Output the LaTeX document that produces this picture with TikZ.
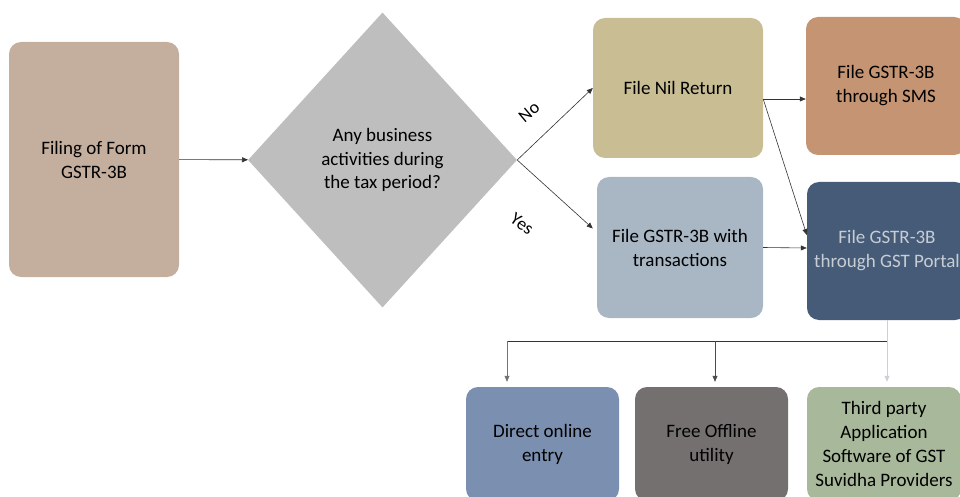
\documentclass[tikz,border=0pt]{standalone}
\usepackage{fontspec}
\setmainfont{Carlito}
\definecolor{formtan}{RGB}{196, 174, 158}
\definecolor{askgray}{RGB}{190, 190, 190}
\definecolor{nilkhaki}{RGB}{201, 189, 148}
\definecolor{txnblue}{RGB}{169, 183, 196}
\definecolor{smsbrown}{RGB}{196, 148, 115}
\definecolor{portalnavy}{RGB}{69, 91, 120}
\definecolor{portaltext}{RGB}{200, 205, 212}
\definecolor{onlineblue}{RGB}{123, 143, 176}
\definecolor{offlinegray}{RGB}{117, 112, 112}
\definecolor{thirdgreen}{RGB}{168, 184, 154}
\definecolor{wiregray}{RGB}{205, 208, 214}
\usepackage{tikz}
\usetikzlibrary{shapes.geometric, arrows.meta, positioning, calc}

\begin{document}
\begin{tikzpicture}[x=1pt, y=-1pt,
  stagebox/.style={rounded corners=12pt, align=center, inner sep=0pt, font=\fontsize{19}{24}\selectfont},
  flow/.style={-{Triangle[length=6pt, width=5pt]}, line width=0.6pt, draw=black!80}]
  \useasboundingbox (0, 0) rectangle (960, 497);
  \clip (0, 0) rectangle (960, 497);

  % Start and question
  \node[stagebox, fill=formtan, minimum width=170pt, minimum height=235pt] (form) at (94, 159.5) {Filing of Form\\GSTR-3B};
  \node[diamond, fill=askgray, minimum width=269pt, minimum height=295pt, inner sep=0pt, align=center, font=\fontsize{19}{23.5}\selectfont] (ask) at (382.5, 160) {Any business\\activities during\\the tax period?};
  \draw[flow] (form) -- (ask);

  % Answers
  \node[stagebox, fill=nilkhaki, minimum width=170pt, minimum height=140pt] (nil) at (678, 88) {File Nil Return};
  \node[stagebox, fill=txnblue, minimum width=166pt, minimum height=141pt] (txn) at (680, 247.5) {File GSTR-3B with\\transactions};
  \draw[flow] (ask.east) -- (nil.west);
  \draw[flow] (ask.east) -- ([xshift=-4pt, yshift=19pt]txn.west);
  \node[rotate=40, font=\fontsize{18}{20}\selectfont] (nolabel) at (529, 112) {No};
  \node[rotate=-35, font=\fontsize{18}{20}\selectfont] (yeslabel) at (522, 224) {Yes};

  % Ways to file
  \node[stagebox, fill=smsbrown, minimum width=160pt, minimum height=138pt] (sms) at (886, 86) {File GSTR-3B\\through SMS};
  \node[stagebox, fill=portalnavy, text=portaltext, minimum width=160pt, minimum height=138pt] (portal) at (887, 251) {File GSTR-3B\\through GST Portal};
  \coordinate (nilout) at ([yshift=-11pt]nil.east);
  \draw[flow] (nilout) -- (nilout -| sms.west);
  \draw[flow] (nilout) -- ([yshift=16pt]portal.west);
  \draw[flow] (txn.east) -- ([yshift=3pt]portal.west);

  % Portal modes
  \node[stagebox, fill=onlineblue, minimum width=153pt, minimum height=114pt] (online) at (542.5, 444) {Direct online\\entry};
  \node[stagebox, fill=offlinegray, minimum width=153pt, minimum height=114pt] (offline) at (711.5, 444) {Free Offline\\utility};
  \node[stagebox, fill=thirdgreen, minimum width=154pt, minimum height=114pt] (third) at (884, 444) {Third party\\Application\\Software of GST\\Suvidha Providers};
  \coordinate (bus) at ([yshift=-21pt]portal.south);
  \draw[line width=0.6pt, draw=black!80] (bus -| 507, 0) -- (bus);
  \draw[flow, draw=wiregray] (portal.south) -- ([yshift=5pt]portal.south |- third.north);
  \draw[flow, draw=black!55] (bus -| 507, 0) -- ([xshift=-35.5pt, yshift=5pt]online.north);
  \draw[flow, draw=black!70] (bus -| 715, 0) -- ([xshift=3.5pt, yshift=5pt]offline.north);
\end{tikzpicture}
\end{document}
